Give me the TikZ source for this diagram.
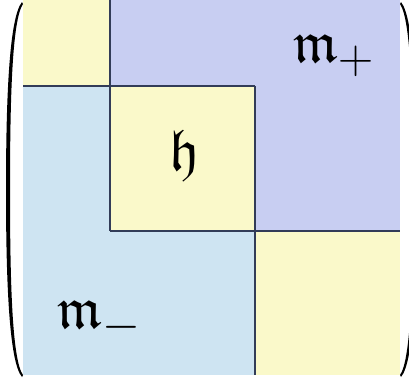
\documentclass[tikz,border=0pt]{standalone}
\usepackage{amssymb}
\definecolor{blockyellow}{RGB}{250,249,202}
\definecolor{blockpurple}{RGB}{200,206,242}
\definecolor{blockblue}{RGB}{206,228,242}
\definecolor{blockline}{RGB}{50,60,88}
\begin{document}
\begin{tikzpicture}[x=1pt,y=-1pt]
    \useasboundingbox (0,0) rectangle (409,381);
    \fill[blockpurple] (110,0) rectangle (400,231);
    \fill[blockblue] (23,86) rectangle (255,375);
    \fill[blockyellow] (23,0) rectangle (110,86);
    \fill[blockyellow] (110,86) rectangle (255,231);
    \fill[blockyellow] (255,231) rectangle (400,375);
    \draw[blockline,line width=1.2pt] (110,0) -- (110,231);
    \draw[blockline,line width=1.2pt] (255,86) -- (255,375);
    \draw[blockline,line width=1.2pt] (23,86) -- (255,86);
    \draw[blockline,line width=1.2pt] (110,231) -- (400,231);
    \node[scale=2.35,anchor=base] (mplus) at (334,62) {\Huge$\mathfrak{m}_{\raisebox{-1.2pt}{$\scriptstyle+$}}$};
    \node[scale=2.35,anchor=base] (hlab) at (184.5,170) {\Huge$\mathfrak{h}$};
    \node[scale=2.35,anchor=base] (mminus) at (99.5,328) {\Huge$\mathfrak{m}_{\raisebox{-1pt}{$\scriptstyle-$}}$};
    \fill (22,2) .. controls (9,18) and (6,100) .. (6,190) .. controls (6,280) and (9,362) .. (22,377)
        -- (23,375) .. controls (12,360) and (10,280) .. (10,190) .. controls (10,100) and (12,20) .. (23,4) -- cycle;
    \fill (401,2) .. controls (414,18) and (417,100) .. (417,190) .. controls (417,280) and (414,362) .. (401,377)
        -- (400,375) .. controls (411,360) and (413,280) .. (413,190) .. controls (413,100) and (411,20) .. (400,4) -- cycle;
\end{tikzpicture}
\end{document}
